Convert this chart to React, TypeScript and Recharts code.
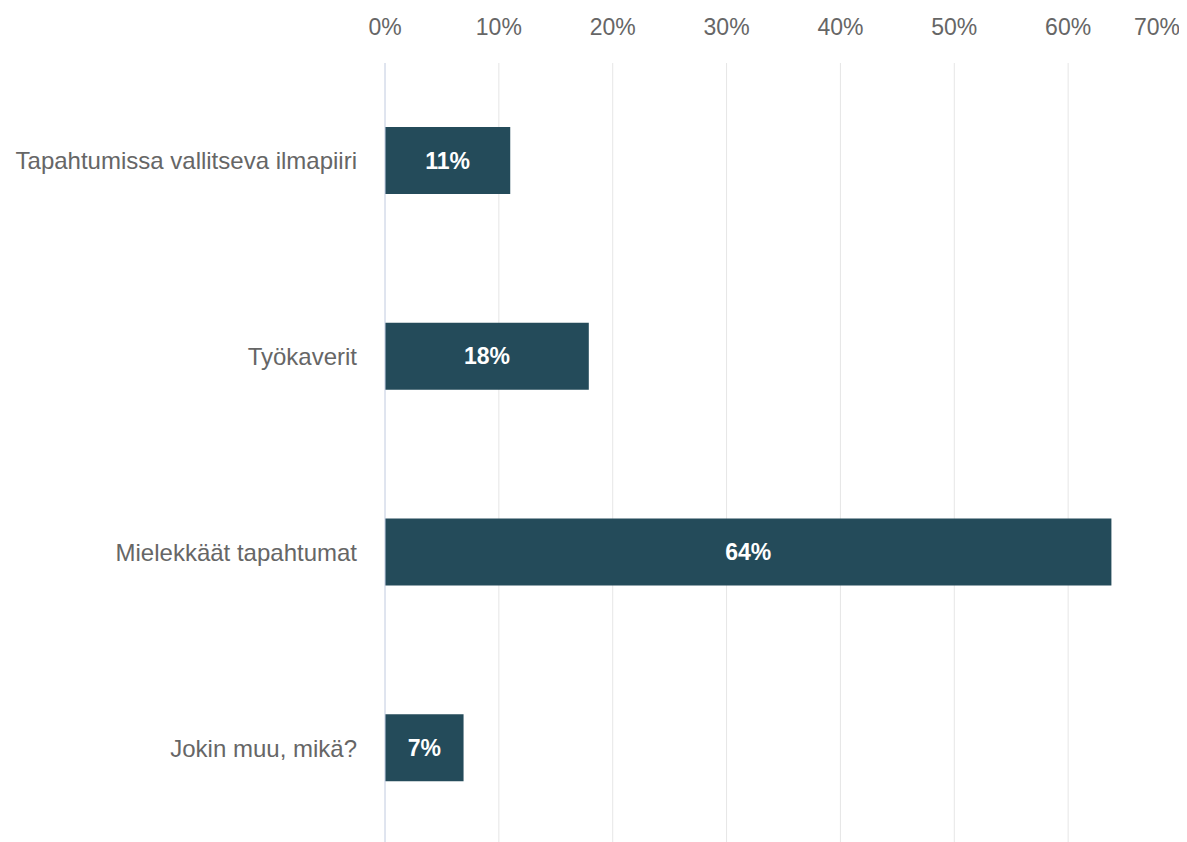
import React from 'react';
import { BarChart, Bar, XAxis, YAxis, CartesianGrid, LabelList } from 'recharts';

const categories = [
  'Tapahtumissa vallitseva ilmapiiri',
  'Työkaverit',
  'Mielekkäät tapahtumat',
  'Jokin muu, mikä?',
];
const values = [11.0, 17.9, 63.8, 6.9];
const valueLabels = ['11%', '18%', '64%', '7%'];
const tickValues = [0, 10, 20, 30, 40, 50, 60, 70];

const data = categories.map((name, i) => ({ name, value: values[i], label: valueLabels[i] }));

const FONT = '"Liberation Sans", Arial, Helvetica, sans-serif';

const TopTick = (props: any) => {
  const { x, y, payload, index } = props;
  const last = index === tickValues.length - 1;
  return (
    <text
      x={last ? x - 2 : x}
      y={y}
      textAnchor={last ? 'end' : 'middle'}
      fill="#666666"
      fontSize={23}
      fontFamily={FONT}
    >
      {payload.value}%
    </text>
  );
};

export default function App() {
  return (
    <div style={{ width: 1179, height: 834, overflow: 'hidden', fontFamily: FONT }}>
      <BarChart
        layout="vertical"
        width={1179}
        height={838}
        data={data}
        margin={{ top: 0, right: 5, bottom: 0, left: 0 }}
      >
        <CartesianGrid horizontal={false} stroke="#e6e6e6" strokeWidth={1} />
        <XAxis
          type="number"
          orientation="top"
          domain={[0, 70]}
          ticks={tickValues}
          axisLine={false}
          tickLine={false}
          tickSize={0}
          tickMargin={28}
          height={55}
          interval={0}
          tick={<TopTick />}
        />
        <YAxis
          type="category"
          dataKey="name"
          width={377}
          axisLine={{ stroke: '#ccd6eb', strokeWidth: 1 }}
          tickLine={false}
          tickSize={0}
          tickMargin={28}
          interval={0}
          tick={{ fill: '#666666', fontSize: 24, fontFamily: FONT }}
        />
        <Bar dataKey="value" fill="#244b5a" barSize={67} isAnimationActive={false}>
          <LabelList
            dataKey="label"
            position="center"
            fill="#ffffff"
            fontWeight="bold"
            fontSize={23}
            fontFamily={FONT}
          />
        </Bar>
      </BarChart>
    </div>
  );
}
